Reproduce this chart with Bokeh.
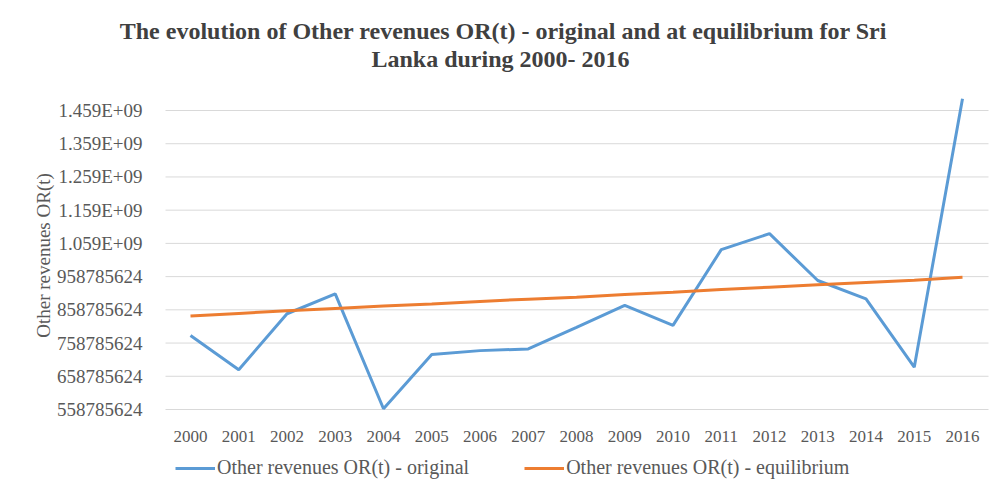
from bokeh.plotting import figure
from bokeh.models import (FixedTicker, Legend, LegendItem, Label, Range1d)
from bokeh.embed import file_html
from bokeh.resources import INLINE

years = list(range(2000, 2017))
original = [781.7e6, 678.4e6, 847.0e6, 907.0e6, 561.0e6, 724.0e6, 736.0e6, 741.0e6,
            806.0e6, 872.0e6, 812.0e6, 1040.0e6, 1088.0e6, 947.0e6, 892.0e6, 686.0e6, 1494.0e6]
equilibrium = [840.0e6, 848.0e6, 856.0e6, 863.0e6, 870.0e6, 876.0e6, 884.0e6, 891.0e6,
               897.0e6, 905.0e6, 912.0e6, 920.0e6, 927.0e6, 934.0e6, 941.0e6, 948.0e6, 957.0e6]
y_ticks = [558785624, 658785624, 758785624, 858785624, 958785624,
           1058785624, 1158785624, 1258785624, 1358785624, 1458785624]
y_tick_labels = ["558785624", "658785624", "758785624", "858785624", "958785624",
                 "1.059E+09", "1.159E+09", "1.259E+09", "1.359E+09", "1.459E+09"]
title_lines = ["The evolution of Other revenues OR(t) - original and at equilibrium  for Sri",
               "Lanka during   2000- 2016"]

FONT = "Liberation Serif"
TXT = "#595959"

# plot-area extent in data units (category bands of width 1 around each year)
X_LO, X_HI = years[0] - 0.518, years[-1] + 0.539

p = figure(width=990, height=491, output_backend="svg", toolbar_location=None,
           x_range=Range1d(1996.0622, 2016.5803),
           y_range=Range1d(311959624, 1732706624),
           min_border_left=0, min_border_right=0, min_border_top=19, min_border_bottom=0)
p.title = None
p.outline_line_color = None
p.background_fill_color = "white"
p.border_fill_color = "white"
p.xgrid.grid_line_color = None
p.ygrid.grid_line_color = None

# horizontal gridlines limited to the plot area
p.segment(x0=[X_LO] * len(y_ticks), x1=[X_HI] * len(y_ticks), y0=y_ticks, y1=y_ticks,
          line_color="#d9d9d9", line_width=1)

r1 = p.line(years, original, line_color="#5b9bd5", line_width=3)
r2 = p.line(years, equilibrium, line_color="#ed7d31", line_width=3)

p.yaxis.ticker = FixedTicker(ticks=y_ticks)
p.yaxis.major_label_overrides = {t: l for t, l in zip(y_ticks, y_tick_labels)}
p.xaxis.ticker = FixedTicker(ticks=years)
p.xaxis.major_label_overrides = {y: str(y) for y in years}
p.yaxis.fixed_location = X_LO
p.xaxis.fixed_location = y_ticks[0]

for ax in (p.xaxis[0], p.yaxis[0]):
    ax.axis_line_color = None
    ax.major_tick_line_color = None
    ax.minor_tick_line_color = None
    ax.major_label_text_font = FONT
    ax.major_label_text_color = TXT

p.xaxis.major_label_text_font_size = "17px"
p.yaxis.major_label_text_font_size = "19px"
p.yaxis.major_label_standoff = 17
p.xaxis.major_label_standoff = 16
p.yaxis.axis_label = "Other revenues OR(t)"
p.yaxis.axis_label_text_font = FONT
p.yaxis.axis_label_text_font_style = "normal"
p.yaxis.axis_label_text_font_size = "19px"
p.yaxis.axis_label_text_color = TXT
p.yaxis.axis_label_standoff = 0

legend = Legend(items=[LegendItem(label="Other revenues OR(t) - original", renderers=[r1]),
                       LegendItem(label="Other revenues OR(t) - equilibrium", renderers=[r2])],
                orientation="horizontal", location=(175, 12),
                glyph_width=40, glyph_height=20, label_height=20, label_standoff=2, spacing=55,
                padding=0, margin=0, border_line_color=None, background_fill_alpha=0,
                label_text_font=FONT, label_text_font_size="20px", label_text_color=TXT)
p.add_layout(legend, "center")

for txt, base in zip(title_lines, [30, 58]):
    p.add_layout(Label(x=506, y=491 - base, x_units="screen", y_units="screen", text=txt,
                       text_align="center", text_baseline="alphabetic",
                       text_font=FONT, text_font_style="bold", text_font_size="24px",
                       text_color="#404040"))

open("out.html", "w").write(file_html(p, INLINE))
